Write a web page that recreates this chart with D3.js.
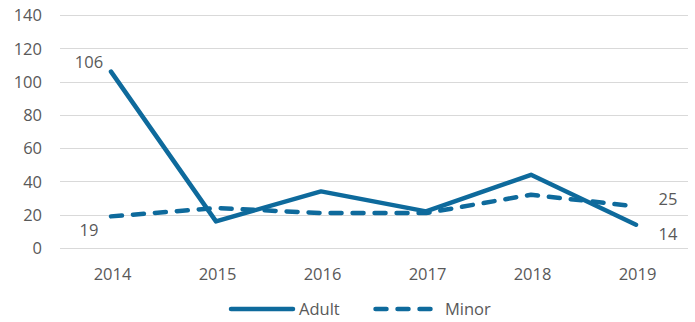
<!DOCTYPE html>
<html>
<head>
<meta charset="utf-8">
<script src="https://cdn.jsdelivr.net/npm/d3@7"></script>
<style>
  html, body { margin: 0; padding: 0; background: #fff; }
  svg text { font-family: "Open Sans", "Noto Sans", sans-serif; fill: #595959; }
</style>
</head>
<body>
<svg id="chart" width="695" height="322"></svg>
<script>
const years = ["2014", "2015", "2016", "2017", "2018", "2019"];
const adult = [106, 16, 34, 22, 44, 14];
const minor = [19, 24, 21, 21, 32, 25];
const yTicks = [0, 20, 40, 60, 80, 100, 120, 140];

const color = "#0E6A9C";
const fontSize = 16.5;
const svg = d3.select("#chart");

const x = d3.scalePoint().domain(years).range([111, 636]);
const y = d3.scaleLinear().domain([0, 140]).range([248, 15]);

// horizontal gridlines
svg.append("g")
  .selectAll("line")
  .data(yTicks)
  .join("line")
  .attr("x1", 60).attr("x2", 688)
  .attr("y1", d => Math.round(y(d)) + 0.5)
  .attr("y2", d => Math.round(y(d)) + 0.5)
  .attr("stroke", "#d9d9d9")
  .attr("stroke-width", 1);

// y axis labels
const yAxis = d3.axisLeft(y).tickValues(yTicks).tickSize(0).tickPadding(0);
const gy = svg.append("g").attr("transform", "translate(42,0)").call(yAxis);
gy.select(".domain").remove();
gy.selectAll("text").attr("font-size", fontSize).style("font-family", null).attr("fill", "#595959").attr("dy", "0.35em");

// x axis labels
const xAxis = d3.axisBottom(x).tickSize(0).tickPadding(0);
const gx = svg.append("g").attr("transform", "translate(1,274)").call(xAxis);
gx.select(".domain").remove();
gx.selectAll("text").attr("font-size", fontSize).style("font-family", null).attr("fill", "#595959").attr("dy", "0.35em");

const line = d3.line().x((d, i) => x(years[i])).y(d => y(d));

// label boxes sit under the lines but over the gridlines
const labels = [
  { v: adult[0], i: 0, dx: -22, dy: -9 },
  { v: minor[0], i: 0, dx: -22, dy: 14 },
  { v: minor[5], i: 5, dx: 32, dy: -7 },
  { v: adult[5], i: 5, dx: 32, dy: 10 }
];
const lg = svg.append("g");
labels.forEach(l => {
  const cx = x(years[l.i]) + l.dx;
  const cy = y(l.v) + l.dy;
  lg.append("rect")
    .attr("x", cx - 17).attr("y", cy - 11)
    .attr("width", 34).attr("height", 22)
    .attr("fill", "#fff");
  lg.append("text")
    .attr("x", cx).attr("y", cy)
    .attr("text-anchor", "middle")
    .attr("dy", "0.35em")
    .attr("font-size", fontSize)
    .text(l.v);
});

svg.append("path")
  .datum(minor)
  .attr("d", line)
  .attr("fill", "none")
  .attr("stroke", color)
  .attr("stroke-width", 4.5)
  .attr("stroke-linecap", "round")
  .attr("stroke-linejoin", "round")
  .attr("stroke-dasharray", "11,11");

svg.append("path")
  .datum(adult)
  .attr("d", line)
  .attr("fill", "none")
  .attr("stroke", color)
  .attr("stroke-width", 4.5)
  .attr("stroke-linejoin", "round")
  .attr("stroke-linecap", "round");

// legend
const leg = svg.append("g");
leg.append("line")
  .attr("x1", 231).attr("x2", 293).attr("y1", 309).attr("y2", 309)
  .attr("stroke", color).attr("stroke-width", 4.5).attr("stroke-linecap", "round");
leg.append("text").attr("x", 299).attr("y", 309).attr("dy", "0.35em")
  .attr("font-size", fontSize).text("Adult");
leg.append("line")
  .attr("x1", 375.5).attr("x2", 432).attr("y1", 309).attr("y2", 309)
  .attr("stroke", color).attr("stroke-width", 4.5).attr("stroke-linecap", "round")
  .attr("stroke-dasharray", "11,11");
leg.append("text").attr("x", 445).attr("y", 309).attr("dy", "0.35em")
  .attr("font-size", fontSize).text("Minor");
</script>
</body>
</html>
